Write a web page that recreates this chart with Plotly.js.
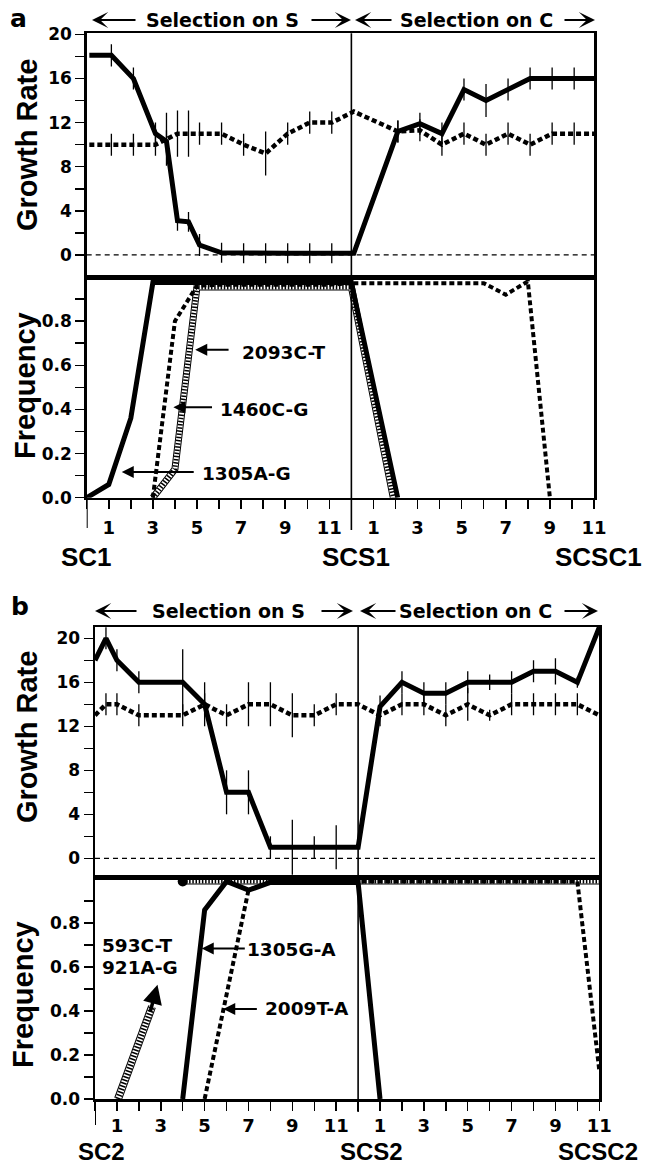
<!DOCTYPE html>
<html><head><meta charset="utf-8">
<script src="https://cdn.plot.ly/plotly-3.0.1.min.js"></script>
<style>html,body{margin:0;padding:0;background:#fff}#chart{width:648px;height:1168px}</style>
</head><body><div id="chart"></div>
<script>
// ---------- DATA ----------
// x = generation; 0..12 selection on S, 12..23 selection on C (second half relabelled 0..11)
const xTickVals = [0,1,2,3,4,5,6,7,8,9,10,11,12,13,14,15,16,17,18,19,20,21,22,23];
const xTickText = ['','1','','3','','5','','7','','9','','11','','1','','3','','5','','7','','9','','11'];
const growthTickVals = [0,2,4,6,8,10,12,14,16,18,20];
const growthTickText = ['0','','4','','8','','12','','16','','20'];
const freqTickVals = [0,0.1,0.2,0.3,0.4,0.5,0.6,0.7,0.8,0.9];
const freqTickText = ['0.0','','0.2','','0.4','','0.6','','0.8',''];

// Panel a, growth rate
const growthA_x = [0,1,2,3,3.5,4,4.5,5,6,7,8,9,10,11,12,14,15,16,17,18,19,20,21,22,23];
const growthA_S = [18.1,18.1,16,11,10.3,3.1,3.0,0.9,0.2,0.15,0.15,0.15,0.15,0.15,0.15,11.2,11.9,11.0,15.0,14.0,15.0,16.0,16.0,16.0,16.0];
const growthA_Serr = [0,1,1,1,1,0.9,0.9,1,0.9,0.9,0.9,0.9,0.9,0.9,0,1,1,1,1,1.5,1,1,1,1,0];
const growthA_C = [10,10,10,10,10.5,11,11,11,11,10,9.2,11,12,12,13,11.2,11.3,10,11,10,11,10,11,11,11];
const growthA_Cerr = [0,1,1,1,2.4,2.1,2.1,1,1,1,2,1,1,1,0,1,1,1,1,1,1,1,1,1,0];

// Panel a, frequency
const freqA_1305_x = [0,1,2,3,4,5,6,7,8,9,10,11,12,14.1];
const freqA_1305_y = [0,0.06,0.36,0.975,0.975,0.975,0.975,0.975,0.975,0.975,0.975,0.975,0.975,0];
const freqA_1460_x = [3,4,5,6,7,8,9,10,11,12,13,14,15,16,17,18,19,20,21];
const freqA_1460_y = [0,0.8,0.96,0.965,0.965,0.965,0.965,0.965,0.965,0.972,0.972,0.972,0.972,0.972,0.972,0.972,0.92,0.98,0];
const freqA_2093_x = [3,4,5,6,7,8,9,10,11,12,13.9];
const freqA_2093_y = [0,0.13,0.955,0.955,0.955,0.955,0.955,0.955,0.955,0.955,0];

// Panel b, growth rate
const growthB_x = [0,0.5,1,2,3,4,5,6,7,8,9,10,11,12,13,14,15,16,17,18,19,20,21,22,23];
const growthB_S = [18,20,18,16,16,16,14,6,6,1,1,1,1,1,13.8,16,15,15,16,16,16,17,17,16,21];
const growthB_Serr = [0,1,1,1,0,3,2,2,2,1,2.5,1,2,0,1,1,1,1,1,0.7,1,1,1.2,0.5,0];
const growthB_C = [13,14,14,13,13,13,14,13,14,14,13,13,14,14,13,14,14,13,14,13,14,14,14,14,13];
const growthB_Cerr = [0,1,1,1,0,1,1,1,2,2,2,1,1,0,1,1,1,1,1.5,0.5,1,1,1,1,0];

// Panel b, frequency
const freqB_1305_x = [4,5,6,7,8,9,10,11,12,13];
const freqB_1305_y = [0,0.86,0.99,0.95,0.985,0.985,0.985,0.985,0.985,0];
const freqB_2009_x = [5,7,8,9,10,11,12,13,14,15,16,17,18,19,20,21,22,23];
const freqB_2009_y = [0,0.95,0.99,0.99,0.99,0.99,0.99,0.99,0.99,0.99,0.99,0.99,0.99,0.99,0.99,0.99,0.99,0.13];
const freqB_593_x = [4,5,6,7,8,9,10,11,12,13,14,15,16,17,18,19,20,21,22,23];
const freqB_593_y = [0.99,0.99,0.99,0.99,0.99,0.99,0.99,0.99,0.99,0.99,0.99,0.99,0.99,0.99,0.99,0.99,0.99,0.99,0.99,0.99];
const arrowB_x = [1.05,2.6];
const arrowB_y = [0,0.42];

// ---------- STYLE HELPERS ----------
const F = 'DejaVu Sans, Liberation Sans, sans-serif';
const HELV = 'Liberation Sans, Arial, sans-serif';
const BLK = '#000';

function solid(x, y, xa, ya, w, err) {
  const t = {x:x, y:y, xaxis:xa, yaxis:ya, mode:'lines', line:{color:BLK, width:w}, hoverinfo:'skip'};
  if (err) t.error_y = {type:'data', array:err, visible:true, width:0, thickness:1.3, color:BLK};
  return t;
}
function dashed(x, y, xa, ya, w, err) {
  const t = solid(x, y, xa, ya, w, err);
  t.line.dash = '5px,3px';
  return t;
}
function hatch(x, y, xa, ya, w) {
  return [
    {x:x, y:y, xaxis:xa, yaxis:ya, mode:'lines', line:{color:BLK, width:w+2}, hoverinfo:'skip'},
    {x:x, y:y, xaxis:xa, yaxis:ya, mode:'lines', line:{color:'#fff', width:w}, hoverinfo:'skip'},
    {x:x, y:y, xaxis:xa, yaxis:ya, mode:'lines', line:{color:BLK, width:w, dash:'1.5px,1.7px'}, hoverinfo:'skip'}
  ];
}

const traces = [
  // panel a growth (x2/y2)
  dashed(growthA_x, growthA_C, 'x2', 'y2', 4.5, growthA_Cerr),
  solid(growthA_x, growthA_S, 'x2', 'y2', 5, growthA_Serr),
  // panel a frequency (x/y)
  ...hatch(freqA_2093_x, freqA_2093_y, 'x', 'y', 5),
  dashed(freqA_1460_x, freqA_1460_y, 'x', 'y', 4),
  solid(freqA_1305_x, freqA_1305_y, 'x', 'y', 5),
  // panel b growth (x4/y4)
  dashed(growthB_x, growthB_C, 'x4', 'y4', 4.5, growthB_Cerr),
  solid(growthB_x, growthB_S, 'x4', 'y4', 5, growthB_Serr),
  // panel b frequency (x3/y3)
  ...hatch(freqB_593_x, freqB_593_y, 'x3', 'y3', 4),
  ...hatch(arrowB_x, arrowB_y, 'x3', 'y3', 6),
  dashed(freqB_2009_x, freqB_2009_y, 'x3', 'y3', 4),
  solid(freqB_1305_x, freqB_1305_y, 'x3', 'y3', 5),
  {x:[freqB_593_x[0]], y:[freqB_593_y[0]], xaxis:'x3', yaxis:'y3', mode:'markers',
   marker:{color:BLK, size:10}, cliponaxis:false, hoverinfo:'skip'}
];

// ---------- LAYOUT ----------
const H = 1168, W = 648;
const py = v => 1 - v / H;
const px = v => v / W;

const aL = px(86.7), aR = px(594), bL = px(95), bR = px(599.3);
const aGrow = [py(277), py(33.3)], aFreq = [py(497.7), py(277)];
const bGrow = [py(877), py(627)], bFreq = [py(1099), py(877)];

const tickFontX = {family:F, weight:'bold', size:18, color:BLK};
const tickFontY = {family:F, weight:'bold', size:17, color:BLK};
const lineStyle = {showline:true, mirror:true, linewidth:2.5, linecolor:BLK, showgrid:false, zeroline:false};

function xFreq(dom, anchor, standoff) {
  return Object.assign({domain:dom, range:[0,23], anchor:anchor, tickmode:'array', tickvals:xTickVals, ticktext:xTickText,
    ticks:'outside', ticklen:9, tickwidth:1.5, tickcolor:BLK, tickfont:tickFontX, ticklabelstandoff:standoff}, lineStyle);
}
function xGrow(dom, anchor, rng) {
  return Object.assign({domain:dom, range:rng, anchor:anchor, showticklabels:false, ticks:''}, lineStyle);
}
function yGrow(dom, anchor, rng) {
  return Object.assign({domain:dom, range:rng, anchor:anchor, tickmode:'array', tickvals:growthTickVals, ticktext:growthTickText,
    ticks:'outside', ticklen:9, tickwidth:1.5, tickcolor:BLK, tickfont:tickFontY}, lineStyle);
}
function yFreq(dom, anchor, rng) {
  return Object.assign({domain:dom, range:rng, anchor:anchor, tickmode:'array', tickvals:freqTickVals, ticktext:freqTickText,
    ticks:'outside', ticklen:9, tickwidth:1.5, tickcolor:BLK, tickfont:tickFontY}, lineStyle);
}

const txt = (text, x, y, size, extra) => Object.assign({text:text, x:x, y:y, xref:'paper', yref:'paper', showarrow:false,
  font:{family:F, weight:'bold', size:size, color:BLK}, xanchor:'center', yanchor:'middle'}, extra || {});
const hdrArrow = (hx, hy, ax) => ({text:'', x:px(hx), y:py(hy), xref:'paper', yref:'paper', showarrow:true,
  ax:ax, ay:0, arrowhead:3, arrowsize:1.5, arrowwidth:1.8, arrowcolor:BLK});
const dataArrow = (xr, yr, hx, hy, tx, ty) => ({text:'', x:hx, y:hy, xref:xr, yref:yr, axref:xr, ayref:yr, ax:tx, ay:ty,
  showarrow:true, arrowhead:2, arrowsize:1.2, arrowwidth:2, arrowcolor:BLK});
const dataText = (xr, yr, t, x, y) => ({text:t, x:x, y:y, xref:xr, yref:yr, showarrow:false, xanchor:'left', yanchor:'middle',
  font:{family:F, weight:'bold', size:18.5, color:BLK}});
const titleFont = {family:HELV, weight:'bold', size:29, color:BLK};
const popFont = {family:HELV, weight:'bold', size:26, color:BLK};
const popFontB = {family:HELV, weight:'bold', size:24, color:BLK};

const annotations = [
  txt('a', px(18), py(19), 25),
  txt('b', px(20), py(606), 25),
  txt('Selection on S', px(222), py(20), 19),
  txt('Selection on C', px(476), py(20), 19),
  hdrArrow(92, 20, 45), hdrArrow(351, 20, -41), hdrArrow(355, 20, 38), hdrArrow(595, 20, -32),
  txt('Selection on S', px(228), py(611), 19),
  txt('Selection on C', px(475), py(611), 19),
  hdrArrow(95, 611, 43), hdrArrow(353, 611, -33), hdrArrow(360, 611, 37), hdrArrow(598, 611, -35),
  // axis titles
  txt('Growth Rate', px(27), py(145), 29, {textangle:-90, font:titleFont}),
  txt('Frequency', px(25), py(386), 29, {textangle:-90, font:titleFont}),
  txt('Growth Rate', px(27), py(737), 29, {textangle:-90, font:titleFont}),
  txt('Frequency', px(23), py(995), 29, {textangle:-90, font:titleFont}),
  // population labels
  txt('SC1', px(86.5), py(557), 26, {font:popFont}),
  txt('SCS1', px(356.5), py(557), 26, {font:popFont}),
  txt('SCSC1', px(598.5), py(557), 26, {font:popFont}),
  txt('SC2', px(101.7), py(1151), 24, {font:popFontB}),
  txt('SCS2', px(371.7), py(1151), 24, {font:popFontB}),
  txt('SCSC2', px(598), py(1151), 24, {font:popFontB}),
  // mutation labels panel a
  dataArrow('x', 'y', 4.92, 0.67, 6.5, 0.67), dataText('x', 'y', '2093C-T', 6.95, 0.66),
  dataArrow('x', 'y', 3.93, 0.41, 5.75, 0.41), dataText('x', 'y', '1460C-G', 5.95, 0.40),
  dataArrow('x', 'y', 1.59, 0.117, 4.92, 0.117), dataText('x', 'y', '1305A-G', 5.15, 0.11),
  // mutation labels panel b
  dataArrow('x3', 'y3', 4.87, 0.685, 6.9, 0.685), dataText('x3', 'y3', '1305G-A', 6.85, 0.68),
  dataArrow('x3', 'y3', 5.85, 0.41, 7.45, 0.41), dataText('x3', 'y3', '2009T-A', 7.65, 0.41),
  dataText('x3', 'y3', '593C-T', 0.25, 0.70),
  dataText('x3', 'y3', '921A-G', 0.25, 0.60),
  {text:'', x:2.85, y:0.52, xref:'x3', yref:'y3', axref:'x3', ayref:'y3', ax:2.5, ay:0.39,
   showarrow:true, arrowhead:2, arrowsize:1.1, arrowwidth:3.5, arrowcolor:BLK}
];

const shapes = [
  // zero reference lines in growth panels
  {type:'line', xref:'x2 domain', x0:0, x1:1, yref:'y2', y0:0, y1:0, line:{color:BLK, width:1.2, dash:'5px,4px'}},
  {type:'line', xref:'x4 domain', x0:0, x1:1, yref:'y4', y0:0, y1:0, line:{color:BLK, width:1.2, dash:'5px,4px'}},
  // dividers between selection phases
  {type:'line', xref:'x', x0:12, x1:12, yref:'paper', y0:py(530), y1:aGrow[1], line:{color:BLK, width:1.6}},
  {type:'line', xref:'x3', x0:12, x1:12, yref:'paper', y0:py(1112), y1:bGrow[1], line:{color:BLK, width:1.6}},
  // long left ticks
  {type:'line', xref:'x', x0:0, x1:0, yref:'paper', y0:py(528), y1:aFreq[0], line:{color:BLK, width:2}},
  {type:'line', xref:'x3', x0:0, x1:0, yref:'paper', y0:py(1125), y1:bFreq[0], line:{color:BLK, width:2}}
];

const layout = {
  width:W, height:H, margin:{l:0, r:0, t:0, b:0}, paper_bgcolor:'#fff', plot_bgcolor:'rgba(0,0,0,0)', showlegend:false,
  xaxis: xFreq([aL, aR], 'y', 3),
  yaxis: yFreq(aFreq, 'x', [0, 1.0]),
  xaxis2: xGrow([aL, aR], 'y2', [-0.12, 22.9]),
  yaxis2: yGrow(aGrow, 'x2', [-2.0, 20.1]),
  xaxis3: xFreq([bL, bR], 'y3', 0),
  yaxis3: yFreq(bFreq, 'x3', [0, 1.01]),
  xaxis4: xGrow([bL, bR], 'y4', [0, 23]),
  yaxis4: yGrow(bGrow, 'x4', [-1.7, 21.03]),
  annotations: annotations,
  shapes: shapes
};

Plotly.newPlot('chart', traces, layout, {staticPlot:true, displayModeBar:false});
</script></body></html>
